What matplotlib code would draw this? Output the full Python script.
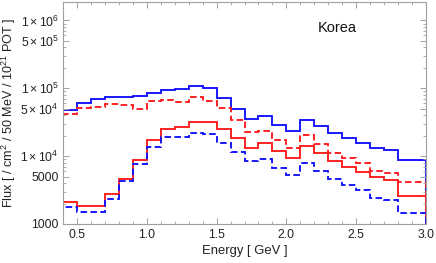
import matplotlib
matplotlib.use("Agg")
import matplotlib.pyplot as plt
from matplotlib.ticker import FixedLocator, NullFormatter, LogLocator, MultipleLocator

plt.rcParams['font.family'] = ['Liberation Sans', 'DejaVu Sans']
plt.rcParams['mathtext.fontset'] = 'custom'
plt.rcParams['mathtext.rm'] = 'Liberation Sans'
plt.rcParams['mathtext.it'] = 'Liberation Sans:italic'

edges = [0.4, 0.5, 0.6, 0.7, 0.8, 0.9, 1.0, 1.1, 1.2, 1.3, 1.4, 1.5, 1.6, 1.7,
         1.8, 1.9, 2.0, 2.1, 2.2, 2.3, 2.4, 2.5, 2.6, 2.7, 2.8, 3.0]

blue_solid = [48300, 60600, 69400, 73200, 75700, 77600, 83900, 94100, 97300, 106300,
              100000, 71300, 50000, 35200, 38500, 28600, 23100, 33800, 27900, 21600,
              18700, 15600, 13200, 12400, 8670]
red_dashed = [41800, 50400, 52200, 58600, 55800, 49400, 63900, 67800, 61800, 73200,
              65500, 50400, 34400, 22400, 23100, 17100, 13300, 20400, 15000, 11300,
              9290, 7840, 6080, 5660, 4150]
red_solid = [2090, 1870, 1830, 2810, 4620, 8670, 17100, 25100, 26700, 31400,
             31400, 25400, 18400, 13200, 15600, 11800, 9410, 13900, 11000, 8440,
             7010, 5780, 4860, 4510, 2620]
blue_dashed = [1790, 1490, 1490, 2350, 4260, 7680, 13500, 19200, 19200, 21900,
               21400, 15600, 11500, 8590, 9120, 6700, 5350, 7940, 5980, 4620,
               3810, 3220, 2430, 2290, 1460]

ytick_vals = [1000, 5000, 1e4, 5e4, 1e5, 5e5, 1e6]
ytick_labels = ['1000', '5000', r'$1\times10^{4}$', r'$5\times10^{4}$',
                r'$1\times10^{5}$', r'$5\times10^{5}$', r'$1\times10^{6}$']
xtick_vals = [0.5, 1.0, 1.5, 2.0, 2.5, 3.0]
xtick_labels = ['0.5', '1.0', '1.5', '2.0', '2.5', '3.0']

fig = plt.figure(figsize=(4.36, 2.63), dpi=100)
ax = fig.add_axes([63/436, 1-224/263, 363/436, 222/263])

lw = 1.35
ax.stairs(blue_solid, edges, color='#1010ff', lw=lw)
ax.stairs(red_dashed, edges, color='#ff1a1a', lw=lw, linestyle=(0, (3.5, 1.8)))
ax.stairs(red_solid, edges, color='#ff1a1a', lw=lw)
ax.stairs(blue_dashed, edges, color='#1010ff', lw=lw, linestyle=(0, (3.5, 1.8)))

ax.set_yscale('log')
ax.set_xlim(0.4, 3.0)
ax.set_ylim(1000, 1.87e6)

ax.yaxis.set_major_locator(FixedLocator(ytick_vals))
ax.set_yticklabels(ytick_labels)
ax.yaxis.set_minor_locator(LogLocator(base=10, subs=[2, 3, 4, 6, 7, 8, 9]))
ax.yaxis.set_minor_formatter(NullFormatter())
ax.set_xticks(xtick_vals)
ax.set_xticklabels(xtick_labels)
ax.xaxis.set_minor_locator(MultipleLocator(0.1))

frame_col = '#a0a0a0'
for s in ax.spines.values():
    s.set_color(frame_col)
    s.set_linewidth(0.8)
ax.tick_params(which='both', direction='in', top=True, right=True, color=frame_col,
               labelsize=8.8, labelcolor='#222222')
ax.tick_params(which='major', length=4, width=0.7)
ax.tick_params(which='minor', length=2.2, width=0.6)
ax.tick_params(axis='y', pad=3)

ax.set_xlabel('Energy [ GeV ]', fontsize=9.4, color='#222222', labelpad=3)
ax.set_ylabel(r'Flux [ / cm$^{2}$ / 50 MeV / 10$^{21}$ POT ]', fontsize=9.1,
              color='#222222', labelpad=2)

ax.text(0.755, 0.883, 'Korea', transform=ax.transAxes, fontsize=10.5,
        ha='center', va='center', color='#111111')

fig.savefig('out.png', dpi=100)
